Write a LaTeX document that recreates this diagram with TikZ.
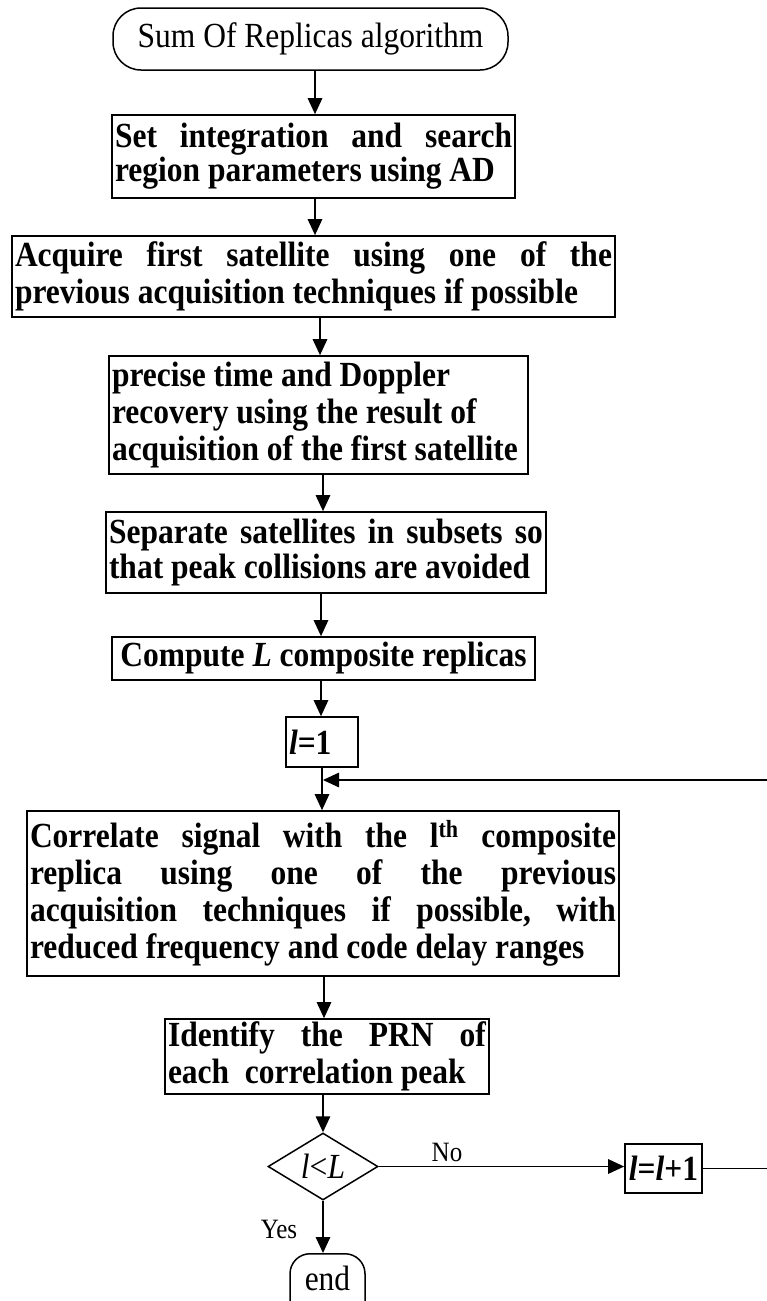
\documentclass[tikz,border=0pt]{standalone}
\usepackage{fontspec}
\setmainfont{Liberation Serif}
\usetikzlibrary{arrows.meta,shapes.geometric}
\hyphenpenalty=10000
\exhyphenpenalty=10000
\newcommand\sx[1]{\scalebox{1}[1.12]{#1}}
\newcommand\tb[3]{\scalebox{1}[1.12]{\parbox{#1}{\fontsize{31.5}{#2}\selectfont\bfseries\raggedright\hyphenpenalty=10000 #3}}}
\begin{document}
\begin{tikzpicture}[x=1pt,y=-1pt,
  bx/.style={draw, line width=1.7pt, inner xsep=3pt, inner ysep=0pt,
    font=\bfseries\fontsize{31.5}{36}\selectfont},
  arr/.style={line width=1.5pt, -{Triangle[length=16pt,width=14.5pt]}},
  lbl/.style={font=\fontsize{25}{28}\selectfont, inner sep=0pt},
  reg/.style={font=\fontsize{31.5}{36}\selectfont}]
\useasboundingbox (0,0) rectangle (767,1301);
\clip (0,0) rectangle (767,1301);
\fill[white] (0,0) rectangle (767,1301);

% nodes
\node[reg, draw, line width=1.5pt, rounded corners=28pt, minimum width=395pt,
  minimum height=62pt, inner sep=0pt] (s) at (310.5,39) {\sx{Sum Of Replicas algorithm}};

\node[bx, minimum width=403pt, minimum height=83pt] (b1) at (313.5,156.5)
  {\tb{397pt}{30.4pt}{Set\hfill integration\hfill and\hfill search\\region parameters using AD}};

\node[bx, minimum width=603pt, minimum height=81pt] (b2) at (313.5,276.5)
  {\tb{597pt}{33.5pt}{Acquire\hfill first\hfill satellite\hfill using\hfill one\hfill of\hfill the\\previous acquisition techniques if possible}};

\node[bx, minimum width=419pt, minimum height=118pt] (b3) at (318.5,415)
  {\tb{413pt}{33pt}{precise time and Doppler\\recovery using the result of\\acquisition of the first satellite}};

\node[bx, minimum width=440pt, minimum height=81pt] (b4) at (326,552.5)
  {\tb{434pt}{31.3pt}{Separate\hfill satellites\hfill in\hfill subsets\hfill so\\that peak collisions are avoided}};

\node[bx, minimum width=423pt, minimum height=43pt] (b5) at (323.5,658.5)
  {\sx{Compute \textit{L} composite replicas}};

\node[bx, minimum width=72pt, minimum height=50pt] (b6) at (322,742)
  {\tb{66pt}{30pt}{\textit{l}=1}};

\node[bx, minimum width=592pt, minimum height=165pt] (b7) at (323,893.5)
  {\tb{586pt}{33pt}{Correlate\hfill signal\hfill with\hfill the\hfill l\textsuperscript{th}\hfill composite\\
   replica\hfill using\hfill one\hfill of\hfill the\hfill previous\\
   acquisition\hfill techniques\hfill if\hfill possible,\hfill with\\
   reduced frequency and code delay ranges}};

\node[bx, minimum width=324pt, minimum height=75pt] (b8) at (327,1056.5)
  {\tb{318pt}{33pt}{Identify\hfill the\hfill PRN\hfill of\\each\ \ correlation peak}};

\node[reg, draw, diamond, aspect=1.64, minimum width=110pt, minimum height=67pt,
  inner sep=0pt, line width=1.5pt] (d) at (323,1166.5) {\sx{\textit{l}<\textit{L}}};

\node[bx, minimum width=77pt, minimum height=49pt] (b9) at (663.5,1168.5)
  {\sx{\textit{l}=\textit{l}+1}};

\node[lbl] (no) at (447,1152) {\sx{No}};
\node[lbl] (yes) at (279,1229) {\sx{Yes}};

\node[reg, draw, line width=1.5pt, rounded corners=20pt, anchor=north, minimum width=75pt,
  inner xsep=0pt, inner ysep=0pt, text height=37pt, text depth=55pt] (e) at (327.5,1253) {\sx{end}};

% helper coordinates
\coordinate (x1) at (315,0);
\coordinate (x3) at (320,0);
\coordinate (x4) at (323,0);
\coordinate (x5) at (321,0);
\coordinate (x7) at (322,0);
\coordinate (x8) at (324,0);
\coordinate (r2) at (790,780);
\coordinate (j) at (323,780);

% connectors
\draw[arr] (s.south -| x1) -- (b1.north -| x1);
\draw[arr] (b1.south -| x1) -- (b2.north -| x1);
\draw[arr] (b2.south -| x3) -- (b3.north -| x3);
\draw[arr] (b3.south -| x4) -- (b4.north -| x4);
\draw[arr] (b4.south -| x5) -- (b5.north -| x5);
\draw[arr] (b5.south -| x5) -- (b6.north -| x5);
\draw[arr] (b6.south -| x7) -- (b7.north -| x7);
\draw[arr] (b7.south -| x8) -- (b8.north -| x8);
\draw[arr] (b8.south -| d.north) -- (d.north);
\draw[arr] (d.east) -- (d.east -| b9.west);
\draw[arr] (d.south) -- (e.north -| d.south);
\draw[arr] (b9.east) -- (b9.east -| r2) -- (r2) -- (j);
\end{tikzpicture}
\end{document}
